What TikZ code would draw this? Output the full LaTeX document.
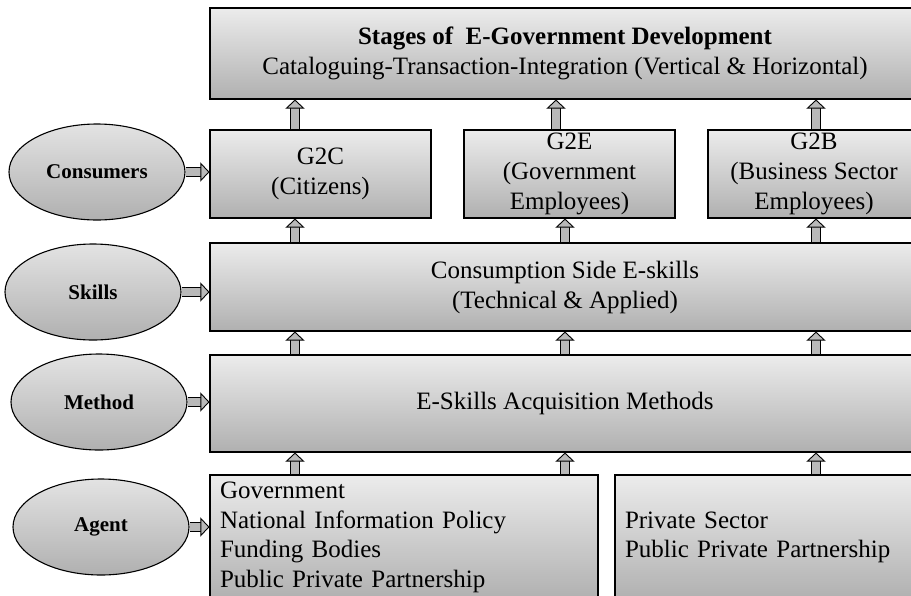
\documentclass[tikz,border=0pt]{standalone}
\usepackage{fontspec}
\setmainfont{Liberation Serif}
\usetikzlibrary{arrows.meta,shapes.geometric,positioning}

\tikzset{
  panel/.style={rectangle, draw=black, line width=1.1pt, top color=gray!15, bottom color=gray!62,
    inner sep=0pt, align=center, font=\fontsize{25}{30}\selectfont},
  listpanel/.style={panel, align=left, inner xsep=10pt, font=\fontsize{25}{29.5}\selectfont},
  role/.style={ellipse, draw=black, line width=1.1pt, top color=gray!22, bottom color=gray!62,
    minimum width=176pt, minimum height=96pt, inner sep=0pt, font=\bfseries\fontsize{21}{24}\selectfont},
  feed/.style={line width=0.9pt, double=gray!55, double distance=7.5pt,
    -{Triangle[width=19pt,length=9pt,fill=gray!55]}},
}

\begin{document}
\begin{tikzpicture}[x=1pt,y=-1pt]
  \useasboundingbox (0,0) rectangle (911,595);
  \clip (0,0) rectangle (911,595);

  % columns the up arrows sit on
  \coordinate (colA) at (295,0);
  \coordinate (colB) at (556,0);
  \coordinate (colC) at (565,0);
  \coordinate (colD) at (816,0);

  % boxes
  \node[panel, minimum width=710pt, minimum height=91pt] (stages) at (565,53.5)
    {\textbf{Stages of\ \ E-Government Development}\\Cataloguing-Transaction-Integration (Vertical \& Horizontal)};
  \node[panel, minimum width=221pt, minimum height=88pt] (g2c) at (320.5,174) {G2C\\(Citizens)};
  \node[panel, minimum width=211pt, minimum height=88pt] (g2e) at (569.5,174) {G2E\\(Government\\Employees)};
  \node[panel, minimum width=212pt, minimum height=88pt] (g2b) at (814,174) {G2B\\(Business Sector\\Employees)};
  \node[panel, minimum width=710pt, minimum height=88pt] (skills) at (565,287)
    {Consumption Side E-skills\\(Technical \& Applied)};
  \node[panel, minimum width=710pt, minimum height=97pt] (methods) at (565,403.5) {E-Skills Acquisition Methods};
  \node[listpanel, minimum width=388pt, minimum height=125pt, text width=368pt] (public) at (404,537.5)
    {Government\\National Information Policy\\Funding Bodies\\Public Private Partnership};
  \node[listpanel, minimum width=305pt, minimum height=125pt, text width=285pt] (private) at (767.5,537.5)
    {Private Sector\\Public Private Partnership};

  % ellipses on the left
  \node[role] (consumers) at (97,172) {Consumers};
  \node[role] (skillsrole) at (93,292) {Skills};
  \node[role] (method) at (99,402) {Method};
  \node[role] (agent) at (101,527) {Agent};

  \draw[feed] (consumers.east) -- (consumers.east -| g2c.west);
  \draw[feed] (skillsrole.east) -- (skillsrole.east -| skills.west);
  \draw[feed] (method.east) -- (method.east -| methods.west);
  \draw[feed] (agent.east) -- (agent.east -| public.west);

  % up arrows
  \draw[feed] (g2c.north -| colA) -- (stages.south -| colA);
  \draw[feed] (g2e.north -| colB) -- (stages.south -| colB);
  \draw[feed] (g2b.north -| colD) -- (stages.south -| colD);
  \draw[feed] (skills.north -| colA) -- (g2c.south -| colA);
  \draw[feed] (skills.north -| colC) -- (g2e.south -| colC);
  \draw[feed] (skills.north -| colD) -- (g2b.south -| colD);
  \foreach \c in {colA,colC,colD}
    \draw[feed] (methods.north -| \c) -- (skills.south -| \c);
  \draw[feed] (public.north -| colA) -- (methods.south -| colA);
  \draw[feed] (public.north -| colC) -- (methods.south -| colC);
  \draw[feed] (private.north -| colD) -- (methods.south -| colD);
\end{tikzpicture}
\end{document}
